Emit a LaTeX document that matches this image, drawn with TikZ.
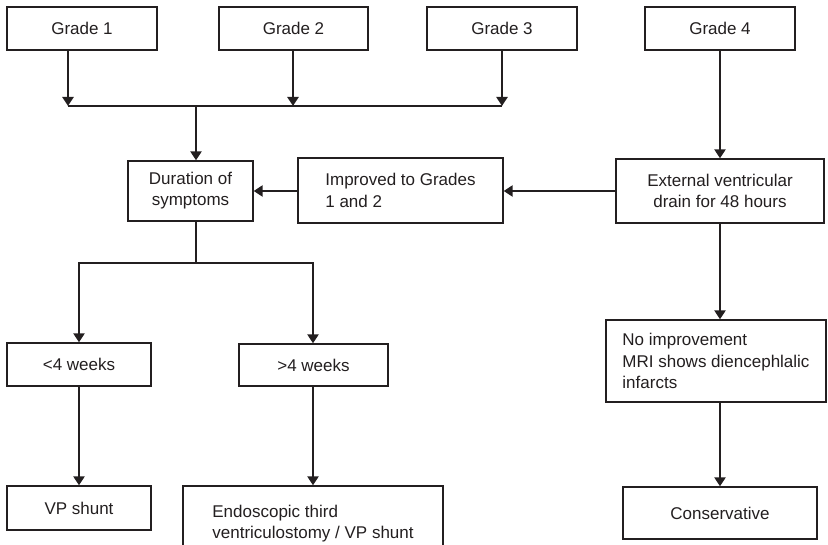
\documentclass[tikz,border=0pt]{standalone}
\usepackage{fontspec}
\setmainfont{Liberation Sans}
\usetikzlibrary{arrows.meta,calc}
\definecolor{ink}{HTML}{231F20}
\begin{document}
\begin{tikzpicture}[x=1pt,y=-1pt,
  box/.style={draw=ink,line width=1.3pt,fill=white,text=ink,align=left,inner sep=0pt,
    font=\fontsize{17}{21.2}\selectfont},
  cbox/.style={box,align=center},
  conn/.style={draw=ink,line width=2.3pt},
  arr/.style={conn,-{Triangle[length=9pt,width=11pt]}}]
\useasboundingbox (0,0) rectangle (828,545);
\clip (0,0) rectangle (828,545);
% top row
\node[cbox,minimum width=150pt,minimum height=43pt] (g1) at (82,28.5) {Grade 1};
\node[cbox,minimum width=149pt,minimum height=43pt] (g2) at (293.5,28.5) {Grade 2};
\node[cbox,minimum width=150pt,minimum height=43pt] (g3) at (502,28.5) {Grade 3};
\node[cbox,minimum width=150pt,minimum height=43pt] (g4) at (720,28.5) {Grade 4};
% second row
\node[cbox,minimum width=125pt,minimum height=60pt] (dur) at (190.5,191) {Duration of\\symptoms};
\node[box,minimum width=205pt,minimum height=65pt] (imp) at (400.5,190.5) {Improved to Grades\\1 and 2};
\node[cbox,minimum width=208pt,minimum height=64pt] (evd) at (720,191) {External ventricular\\drain for 48 hours};
% third row
\node[cbox,minimum width=144pt,minimum height=43pt] (lt4) at (79,364.5) {<4 weeks};
\node[cbox,minimum width=149pt,minimum height=42pt] (gt4) at (313.5,365) {>4 weeks};
\node[box,minimum width=220pt,minimum height=82pt] (nomri) at (716,361) {No improvement\\MRI shows diencephlalic\\infarcts};
% bottom row
\node[cbox,minimum width=144pt,minimum height=44pt] (vp) at (79,508) {VP shunt};
\node[box,minimum width=260pt,minimum height=76pt] (endo) at (313,524) {Endoscopic third\\ventriculostomy / VP shunt};
\node[cbox,minimum width=194pt,minimum height=52pt] (cons) at (720,513) {Conservative};
% bus coordinates
\coordinate (busL) at (68,106);
\coordinate (busG2) at (293,106);
\coordinate (busR) at (502,106);
\coordinate (busM) at (196,106);
\coordinate (bus2) at (196,263);
\coordinate (bus2L) at (79,263);
\coordinate (bus2R) at (313,263);
% connectors
\draw[arr] (g1.south -| busL) -- (busL);
\draw[arr] (g2.south -| busG2) -- (busG2);
\draw[arr] (g3.south -| busR) -- (busR);
\draw[conn] (busL) -- (busR);
\draw[arr] (busM) -- (busM |- dur.north);
\draw[conn] (busM |- dur.south) -- (bus2);
\draw[arr] (bus2) -- (bus2L) -- (bus2L |- lt4.north);
\draw[arr] (bus2) -- (bus2R) -- (bus2R |- gt4.north);
\draw[arr] (lt4.south) -- (vp.north);
\draw[arr] (gt4.south -| bus2R) -- (bus2R |- endo.north);
\draw[arr] (imp.west |- dur.east) -- (dur.east);
\draw[arr] (evd.west) -- (evd.west -| imp.east);
\draw[arr] (g4.south) -- (evd.north);
\draw[arr] (evd.south) -- (evd.south |- nomri.north);
\draw[arr] (evd.south |- nomri.south) -- (cons.north);
\end{tikzpicture}
\end{document}
